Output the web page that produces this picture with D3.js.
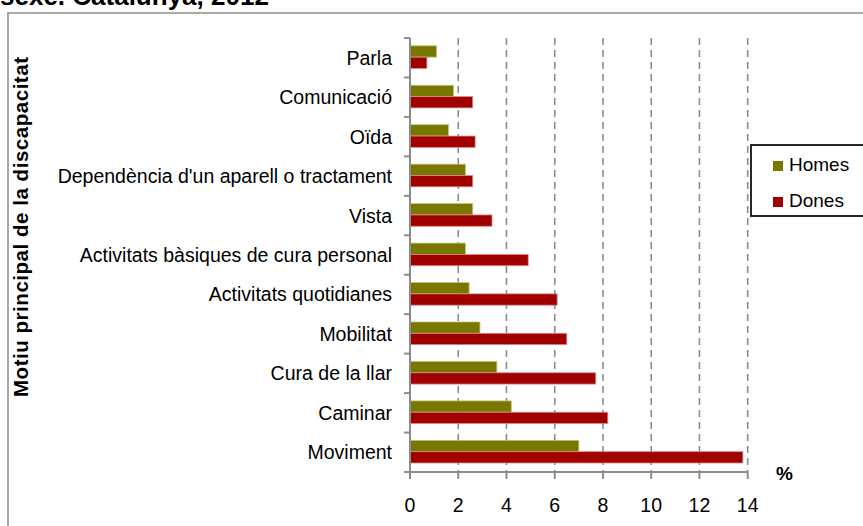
<!DOCTYPE html>
<html>
<head>
<meta charset="utf-8">
<script src="https://cdn.jsdelivr.net/npm/d3@7"></script>
<style>
  html, body { margin: 0; padding: 0; background: #fff; }
  svg { display: block; font-family: "Liberation Sans", Arial, sans-serif; }
</style>
</head>
<body>
<svg id="chart" width="863" height="526"></svg>
<script>
// Motiu principal de la discapacitat, per sexe (%)
const categories = [
  "Parla",
  "Comunicació",
  "Oïda",
  "Dependència d'un aparell o tractament",
  "Vista",
  "Activitats bàsiques de cura personal",
  "Activitats quotidianes",
  "Mobilitat",
  "Cura de la llar",
  "Caminar",
  "Moviment"
];
const homes = [1.1, 1.8, 1.6, 2.3, 2.6, 2.3, 2.45, 2.9, 3.6, 4.2, 7.0];
const dones = [0.7, 2.6, 2.7, 2.6, 3.4, 4.9, 6.1, 6.5, 7.7, 8.2, 13.8];
const seriesNames = ["Homes", "Dones"];
const xTicks = [0, 2, 4, 6, 8, 10, 12, 14];

const colors = { Homes: "#787800", Dones: "#a00000" };

const svg = d3.select("#chart");

// title (second line of the heading)
svg.append("text")
  .attr("x", 0).attr("y", 4.5)
  .attr("font-size", 26).attr("font-weight", "bold")
  .attr("fill", "#000")
  .text("sexe. Catalunya, 2012");

// chart frame
svg.append("rect")
  .attr("x", 8).attr("y", 13)
  .attr("width", 900).attr("height", 600)
  .attr("fill", "none").attr("stroke", "#8c8c8c").attr("stroke-width", 1.5);

const plot = { left: 410, right: 747.7, top: 38, bottom: 472 };

const x = d3.scaleLinear().domain([0, 14]).range([plot.left, plot.right]);
const y = d3.scaleBand().domain(categories).range([plot.top, plot.bottom]).padding(0);

// dashed vertical gridlines
svg.append("g")
  .selectAll("line")
  .data(xTicks.filter(t => t > 0))
  .join("line")
  .attr("x1", d => x(d)).attr("x2", d => x(d))
  .attr("y1", plot.top).attr("y2", plot.bottom)
  .attr("stroke", "#8c8c8c").attr("stroke-width", 1.6)
  .attr("stroke-dasharray", "7,5");

// bars
const bw = y.bandwidth();
const barH = bw * 0.287;
const offset = (bw - 2 * barH) / 2 - 0.6;
const rows = categories.map((c, i) => ({ c, Homes: homes[i], Dones: dones[i] }));

const groups = svg.append("g").selectAll("g")
  .data(rows)
  .join("g")
  .attr("transform", d => `translate(0,${y(d.c) + offset})`);

groups.selectAll("rect")
  .data(d => seriesNames.map((s, j) => ({ s, v: d[s], j })))
  .join("rect")
  .attr("x", x(0))
  .attr("y", d => d.j * barH)
  .attr("width", d => x(d.v) - x(0))
  .attr("height", barH)
  .attr("fill", d => colors[d.s])
  .attr("stroke", d => d.s === "Homes" ? "#c4c27e" : "#dc8a8a")
  .attr("stroke-width", 0.8);

// y axis: line with ticks at category boundaries
const yAxis = svg.append("g");
yAxis.append("line")
  .attr("x1", plot.left).attr("x2", plot.left)
  .attr("y1", plot.top).attr("y2", plot.bottom + 6)
  .attr("stroke", "#8c8c8c").attr("stroke-width", 2);
const boundaries = categories.map(c => y(c)).concat([plot.bottom]);
yAxis.selectAll("line.tick")
  .data(boundaries)
  .join("line")
  .attr("class", "tick")
  .attr("x1", plot.left - 6).attr("x2", plot.left)
  .attr("y1", d => d).attr("y2", d => d)
  .attr("stroke", "#8c8c8c").attr("stroke-width", 2);

// category labels
svg.append("g").selectAll("text")
  .data(categories)
  .join("text")
  .attr("x", 392)
  .attr("y", d => y(d) + bw / 2 + 7)
  .attr("text-anchor", "end")
  .attr("font-size", 19.5)
  .attr("fill", "#000")
  .text(d => d);

// x axis
const xAxis = svg.append("g");
xAxis.append("line")
  .attr("x1", plot.left).attr("x2", plot.right)
  .attr("y1", plot.bottom).attr("y2", plot.bottom)
  .attr("stroke", "#8c8c8c").attr("stroke-width", 2);
xAxis.selectAll("line.tick")
  .data(xTicks)
  .join("line")
  .attr("class", "tick")
  .attr("x1", d => x(d)).attr("x2", d => x(d))
  .attr("y1", plot.bottom).attr("y2", plot.bottom + 7)
  .attr("stroke", "#8c8c8c").attr("stroke-width", 2);
xAxis.selectAll("text")
  .data(xTicks)
  .join("text")
  .attr("x", d => x(d))
  .attr("y", 511.5)
  .attr("text-anchor", "middle")
  .attr("font-size", 19.5)
  .attr("fill", "#000")
  .text(d => d);

// axis titles
svg.append("text")
  .attr("transform", "translate(28,227) rotate(-90)")
  .attr("text-anchor", "middle")
  .attr("font-size", 20.5).attr("font-weight", "bold")
  .attr("textLength", 340).attr("lengthAdjust", "spacing")
  .attr("fill", "#000")
  .text("Motiu principal de la discapacitat");

svg.append("text")
  .attr("x", 776).attr("y", 480)
  .attr("font-size", 19).attr("font-weight", "bold")
  .attr("fill", "#000")
  .text("%");

// legend
const legend = svg.append("g");
legend.append("rect")
  .attr("x", 751).attr("y", 145)
  .attr("width", 130).attr("height", 71)
  .attr("fill", "#fff").attr("stroke", "#111").attr("stroke-width", 1.8);
const items = legend.selectAll("g.item")
  .data(seriesNames)
  .join("g")
  .attr("class", "item")
  .attr("transform", (d, i) => `translate(773,${161 + i * 36})`);
items.append("rect")
  .attr("width", 10).attr("height", 10)
  .attr("fill", d => colors[d]);
items.append("text")
  .attr("x", 16).attr("y", 10)
  .attr("font-size", 19)
  .attr("fill", "#000")
  .text(d => d);
</script>
</body>
</html>
